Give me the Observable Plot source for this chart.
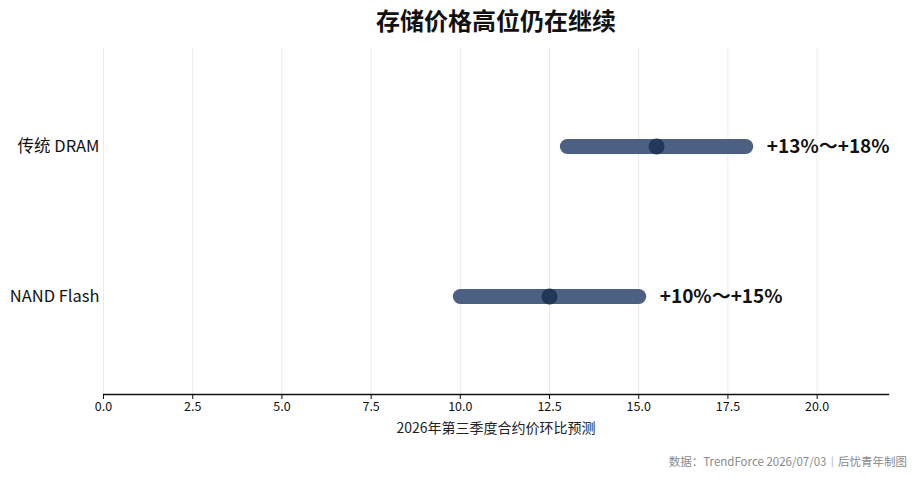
<!DOCTYPE html>
<html>
<head>
<meta charset="utf-8">
<script src="https://cdn.jsdelivr.net/npm/d3@7"></script>
<script src="https://cdn.jsdelivr.net/npm/@observablehq/plot@0.6"></script>
<style>
  body { margin: 0; background: #fff; font-family: "Noto Sans CJK SC", "Noto Sans", sans-serif; }
  #wrap { width: 916px; height: 478px; position: relative; }
  #title { height: 40px; line-height: 40px; text-align: center; font-size: 24px; font-weight: 700; color: #111; padding-left: 76px; box-sizing: border-box; }
  #caption { position: absolute; right: 9px; top: 453px; font-size: 11.5px; color: #8a8a8a; }
</style>
</head>
<body>
<div id="wrap">
  <div id="title">存储价格高位仍在继续</div>
  <div id="chart"></div>
  <div id="caption">数据：TrendForce 2026/07/03｜后忧青年制图</div>
</div>
<script>
const categories = ["传统 DRAM", "NAND Flash"];
const lows = [13, 10];
const highs = [18, 15];
const mids = [15.5, 12.5];
const rangeLabels = ["+13%～+18%", "+10%～+15%"];
const xTicks = [0, 2.5, 5, 7.5, 10, 12.5, 15, 17.5, 20];
const xDomain = [0, 22];
const xLabel = "2026年第三季度合约价环比预测";

const rows = categories.map((c, i) => ({cat: c, lo: lows[i], hi: highs[i], mid: mids[i], label: rangeLabels[i]}));

const chart = Plot.plot({
  width: 916,
  height: 399,
  marginTop: 8,
  marginBottom: 45,
  marginLeft: 103,
  marginRight: 28,
  style: {fontFamily: '"Noto Sans CJK SC", "Noto Sans", sans-serif', background: "#fff", color: "#111"},
  x: {domain: xDomain, ticks: xTicks, tickFormat: d3.format(".1f"), label: null},
  y: {type: "point", domain: categories, padding: 0.653, label: null},
  marks: [
    Plot.gridX(xTicks, {stroke: "#ebebeb", strokeOpacity: 1, strokeWidth: 1}),
    Plot.frame({anchor: "bottom", stroke: "#111", strokeWidth: 1.3}),
    Plot.axisX({ticks: xTicks, tickFormat: d3.format(".1f"), tickSize: 5, tickPadding: 3, fontSize: 12.5, stroke: "#111", label: null}),
    Plot.text([xLabel], {frameAnchor: "bottom", dy: 38, fontSize: 14, fill: "#222"}),
    Plot.axisY({tickSize: 0, tickPadding: 4, fontSize: 16.5, label: null, fill: "#111"}),
    Plot.link(rows, {x1: "lo", x2: "hi", y1: "cat", y2: "cat", stroke: "#4b6083", strokeWidth: 15, strokeLinecap: "round"}),
    Plot.dot(rows, {x: "mid", y: "cat", r: 8, fill: "#223858", stroke: "none"}),
    Plot.text(rows, {x: "hi", y: "cat", text: "label", textAnchor: "start", dx: 21, fontSize: 19, fontWeight: 700, fill: "#111"})
  ]
});
document.getElementById("chart").appendChild(chart);
</script>
</body>
</html>
